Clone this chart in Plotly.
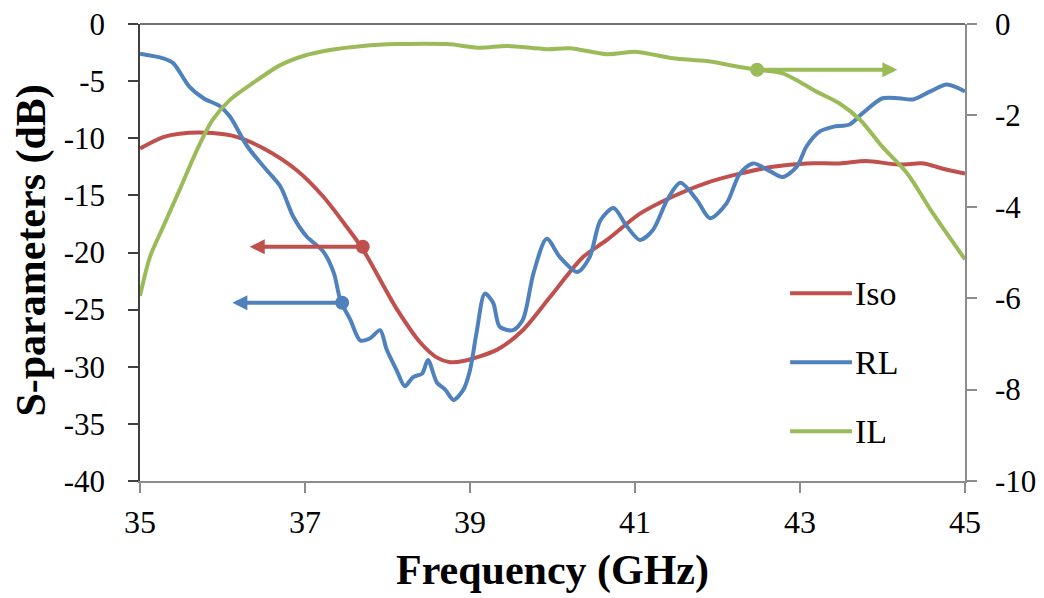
import plotly.graph_objects as go

# ---------------- data ----------------
iso_f = [35.0, 35.28, 35.48, 35.88, 36.18, 36.5, 36.9, 37.22, 37.5, 37.7, 38.1, 38.4, 38.6, 38.76,
         38.92, 39.33, 39.64, 39.97, 40.37, 40.66, 41.06, 41.46, 41.87, 42.27, 42.67, 43.08, 43.48,
         43.8, 44.2, 44.5, 44.7, 45.0]
iso_db = [-10.9, -9.9, -9.6, -9.55, -9.9, -10.9, -12.8, -15.1, -17.7, -19.7, -24.8, -27.9, -29.2, -29.6,
          -29.5, -28.5, -26.8, -23.9, -20.4, -18.9, -16.6, -15.1, -13.9, -13.1, -12.5, -12.2, -12.2,
          -12.0, -12.3, -12.2, -12.6, -13.1]

rl_f = [35.0, 35.28, 35.4, 35.6, 35.77, 35.97, 36.09, 36.3, 36.5, 36.7, 36.86, 37.02, 37.22, 37.35,
        37.43, 37.55, 37.67, 37.79, 37.91, 37.99, 38.11, 38.21, 38.31, 38.42, 38.49, 38.6, 38.7, 38.8,
        38.92, 39.0, 39.08, 39.18, 39.28, 39.36, 39.52, 39.64, 39.77, 39.93, 40.09, 40.3, 40.45,
        40.58, 40.74, 40.9, 41.06, 41.22, 41.39, 41.55, 41.75, 41.91, 42.11, 42.27, 42.43, 42.64,
        42.79, 42.96, 43.08, 43.24, 43.4, 43.6, 43.76, 44.0, 44.2, 44.37, 44.58, 44.78, 45.0]
rl_db = [-2.6, -3.0, -3.4, -5.5, -6.5, -7.2, -8.1, -10.7, -12.5, -14.2, -16.9, -18.6, -19.9, -21.8,
         -24.2, -25.9, -27.7, -27.5, -26.8, -28.5, -30.3, -31.7, -30.9, -30.6, -29.4, -31.4, -32.0, -32.9,
         -32.0, -30.3, -27.0, -23.6, -24.4, -26.5, -26.8, -25.9, -21.8, -18.8, -20.4, -21.7, -20.4,
         -17.2, -16.1, -17.7, -18.9, -18.0, -15.4, -13.9, -15.4, -17.0, -15.7, -13.1, -12.2, -12.9,
         -13.4, -12.5, -10.7, -9.4, -9.0, -8.8, -7.8, -6.5, -6.5, -6.6, -5.9, -5.3, -5.9]

il_f = [35.0, 35.12, 35.28, 35.48, 35.69, 35.88, 36.09, 36.37, 36.7, 36.98, 37.3, 37.7, 38.11, 38.72,
        39.12, 39.45, 39.93, 40.21, 40.66, 41.02, 41.46, 41.87, 42.27, 42.48, 42.79, 43.2, 43.48,
        43.73, 44.0, 44.3, 44.61, 45.0]
il_db = [-5.95, -5.1, -4.44, -3.63, -2.76, -2.1, -1.66, -1.29, -0.9, -0.70, -0.57, -0.48, -0.44, -0.44,
         -0.52, -0.48, -0.55, -0.53, -0.66, -0.61, -0.75, -0.81, -0.94, -1.0, -1.08, -1.48, -1.74,
         -2.1, -2.69, -3.27, -4.14, -5.15]

series_names = ["Iso", "RL", "IL"]
series_colors = ["#C0504D", "#4F81BD", "#9BBB59"]

# arrow annotations: (dot f, dot value, tip f, axis)
arrow_dot_f = [37.7, 37.45, 42.48]
arrow_dot_v = [-19.5, -24.4, -1.0]
arrow_tip_f = [36.33, 36.12, 44.18]
arrow_axis = ["y", "y", "y2"]

x_ticks = [35, 37, 39, 41, 43, 45]
y_left_ticks = [0, -5, -10, -15, -20, -25, -30, -35, -40]
y_right_ticks = [0, -2, -4, -6, -8, -10]

# ---------------- figure ----------------
fig = go.Figure()
fig.add_trace(go.Scatter(x=iso_f, y=iso_db, mode="lines", name="Iso",
                         line=dict(color=series_colors[0], width=4, shape="spline", smoothing=0.8),
                         showlegend=False))
fig.add_trace(go.Scatter(x=rl_f, y=rl_db, mode="lines", name="RL",
                         line=dict(color=series_colors[1], width=4, shape="spline", smoothing=0.8),
                         showlegend=False))
fig.add_trace(go.Scatter(x=il_f, y=il_db, mode="lines", name="IL", yaxis="y2",
                         line=dict(color=series_colors[2], width=4, shape="spline", smoothing=0.8),
                         showlegend=False))

serif = "Liberation Serif, Times New Roman, serif"

annotations = []
for i in range(3):
    yr = arrow_axis[i]
    fig.add_trace(go.Scatter(x=[arrow_dot_f[i]], y=[arrow_dot_v[i]], mode="markers",
                             yaxis="y2" if yr == "y2" else "y",
                             marker=dict(color=series_colors[i], size=14), showlegend=False,
                             hoverinfo="skip"))
    annotations.append(dict(x=arrow_tip_f[i], y=arrow_dot_v[i], xref="x", yref=yr,
                            ax=arrow_dot_f[i], ay=arrow_dot_v[i], axref="x", ayref=yr,
                            showarrow=True, arrowhead=2, arrowwidth=4, arrowsize=0.75,
                            arrowcolor=series_colors[i], text=""))

# manual legend
leg_y = [0.411, 0.260, 0.109]
shapes = []
for i in range(3):
    shapes.append(dict(type="line", xref="paper", yref="paper", x0=0.788, x1=0.863,
                       y0=leg_y[i], y1=leg_y[i], line=dict(color=series_colors[i], width=4)))
    annotations.append(dict(x=0.864, y=leg_y[i], xref="paper", yref="paper", xanchor="left",
                            yanchor="middle", text=series_names[i], showarrow=False,
                            font=dict(family=serif, size=34, color="black")))

# top border line
shapes.append(dict(type="line", xref="paper", yref="paper", x0=0, x1=1, y0=1, y1=1,
                   line=dict(color="#404040", width=1.5)))

# axis titles
annotations.append(dict(x=0.5, y=-0.196, xref="paper", yref="paper", xanchor="center",
                        yanchor="middle", text="<b>Frequency (GHz)</b>", showarrow=False,
                        font=dict(family=serif, size=42, color="black")))
annotations.append(dict(x=-0.131, y=0.504, xref="paper", yref="paper", xanchor="center",
                        yanchor="middle", text="<b>S-parameters (dB)</b>", showarrow=False,
                        textangle=-90, font=dict(family=serif, size=42, color="black")))

fig.update_layout(
    template="none",
    width=1028, height=590,
    margin=dict(l=132, r=71, t=16, b=117, autoexpand=False),
    plot_bgcolor="white", paper_bgcolor="white",
    showlegend=False,
    annotations=annotations, shapes=shapes,
    xaxis=dict(range=[35, 45], tickvals=x_ticks, ticktext=[str(v) for v in x_ticks],
               ticks="outside", ticklen=10, tickwidth=1.5, automargin=False,
               ticklabeloverflow="allow",
               tickcolor="#8c8c8c", showline=True, linecolor="#8c8c8c", linewidth=1.5,
               showgrid=False, zeroline=False, ticklabelstandoff=2,
               tickfont=dict(family=serif, size=32, color="black")),
    yaxis=dict(range=[-40, 0], tickvals=y_left_ticks, ticktext=[str(v) for v in y_left_ticks],
               ticks="outside", ticklen=10, tickwidth=1.5, automargin=False,
               ticklabeloverflow="allow",
               tickcolor="#404040", showline=True, linecolor="#404040", linewidth=1.5,
               showgrid=False, zeroline=False, ticklabelstandoff=17,
               tickfont=dict(family=serif, size=31, color="black")),
    yaxis2=dict(range=[-10, 0], tickvals=y_right_ticks, ticktext=[str(v) for v in y_right_ticks],
                overlaying="y", side="right", ticks="outside", automargin=False,
                ticklabeloverflow="allow",
                ticklen=10, tickwidth=1.5, tickcolor="#8c8c8c", showline=True,
                linecolor="#8c8c8c", linewidth=1.5, showgrid=False, zeroline=False,
                ticklabelstandoff=12,
                tickfont=dict(family=serif, size=31, color="black")),
)

fig.write_html("out.html")
